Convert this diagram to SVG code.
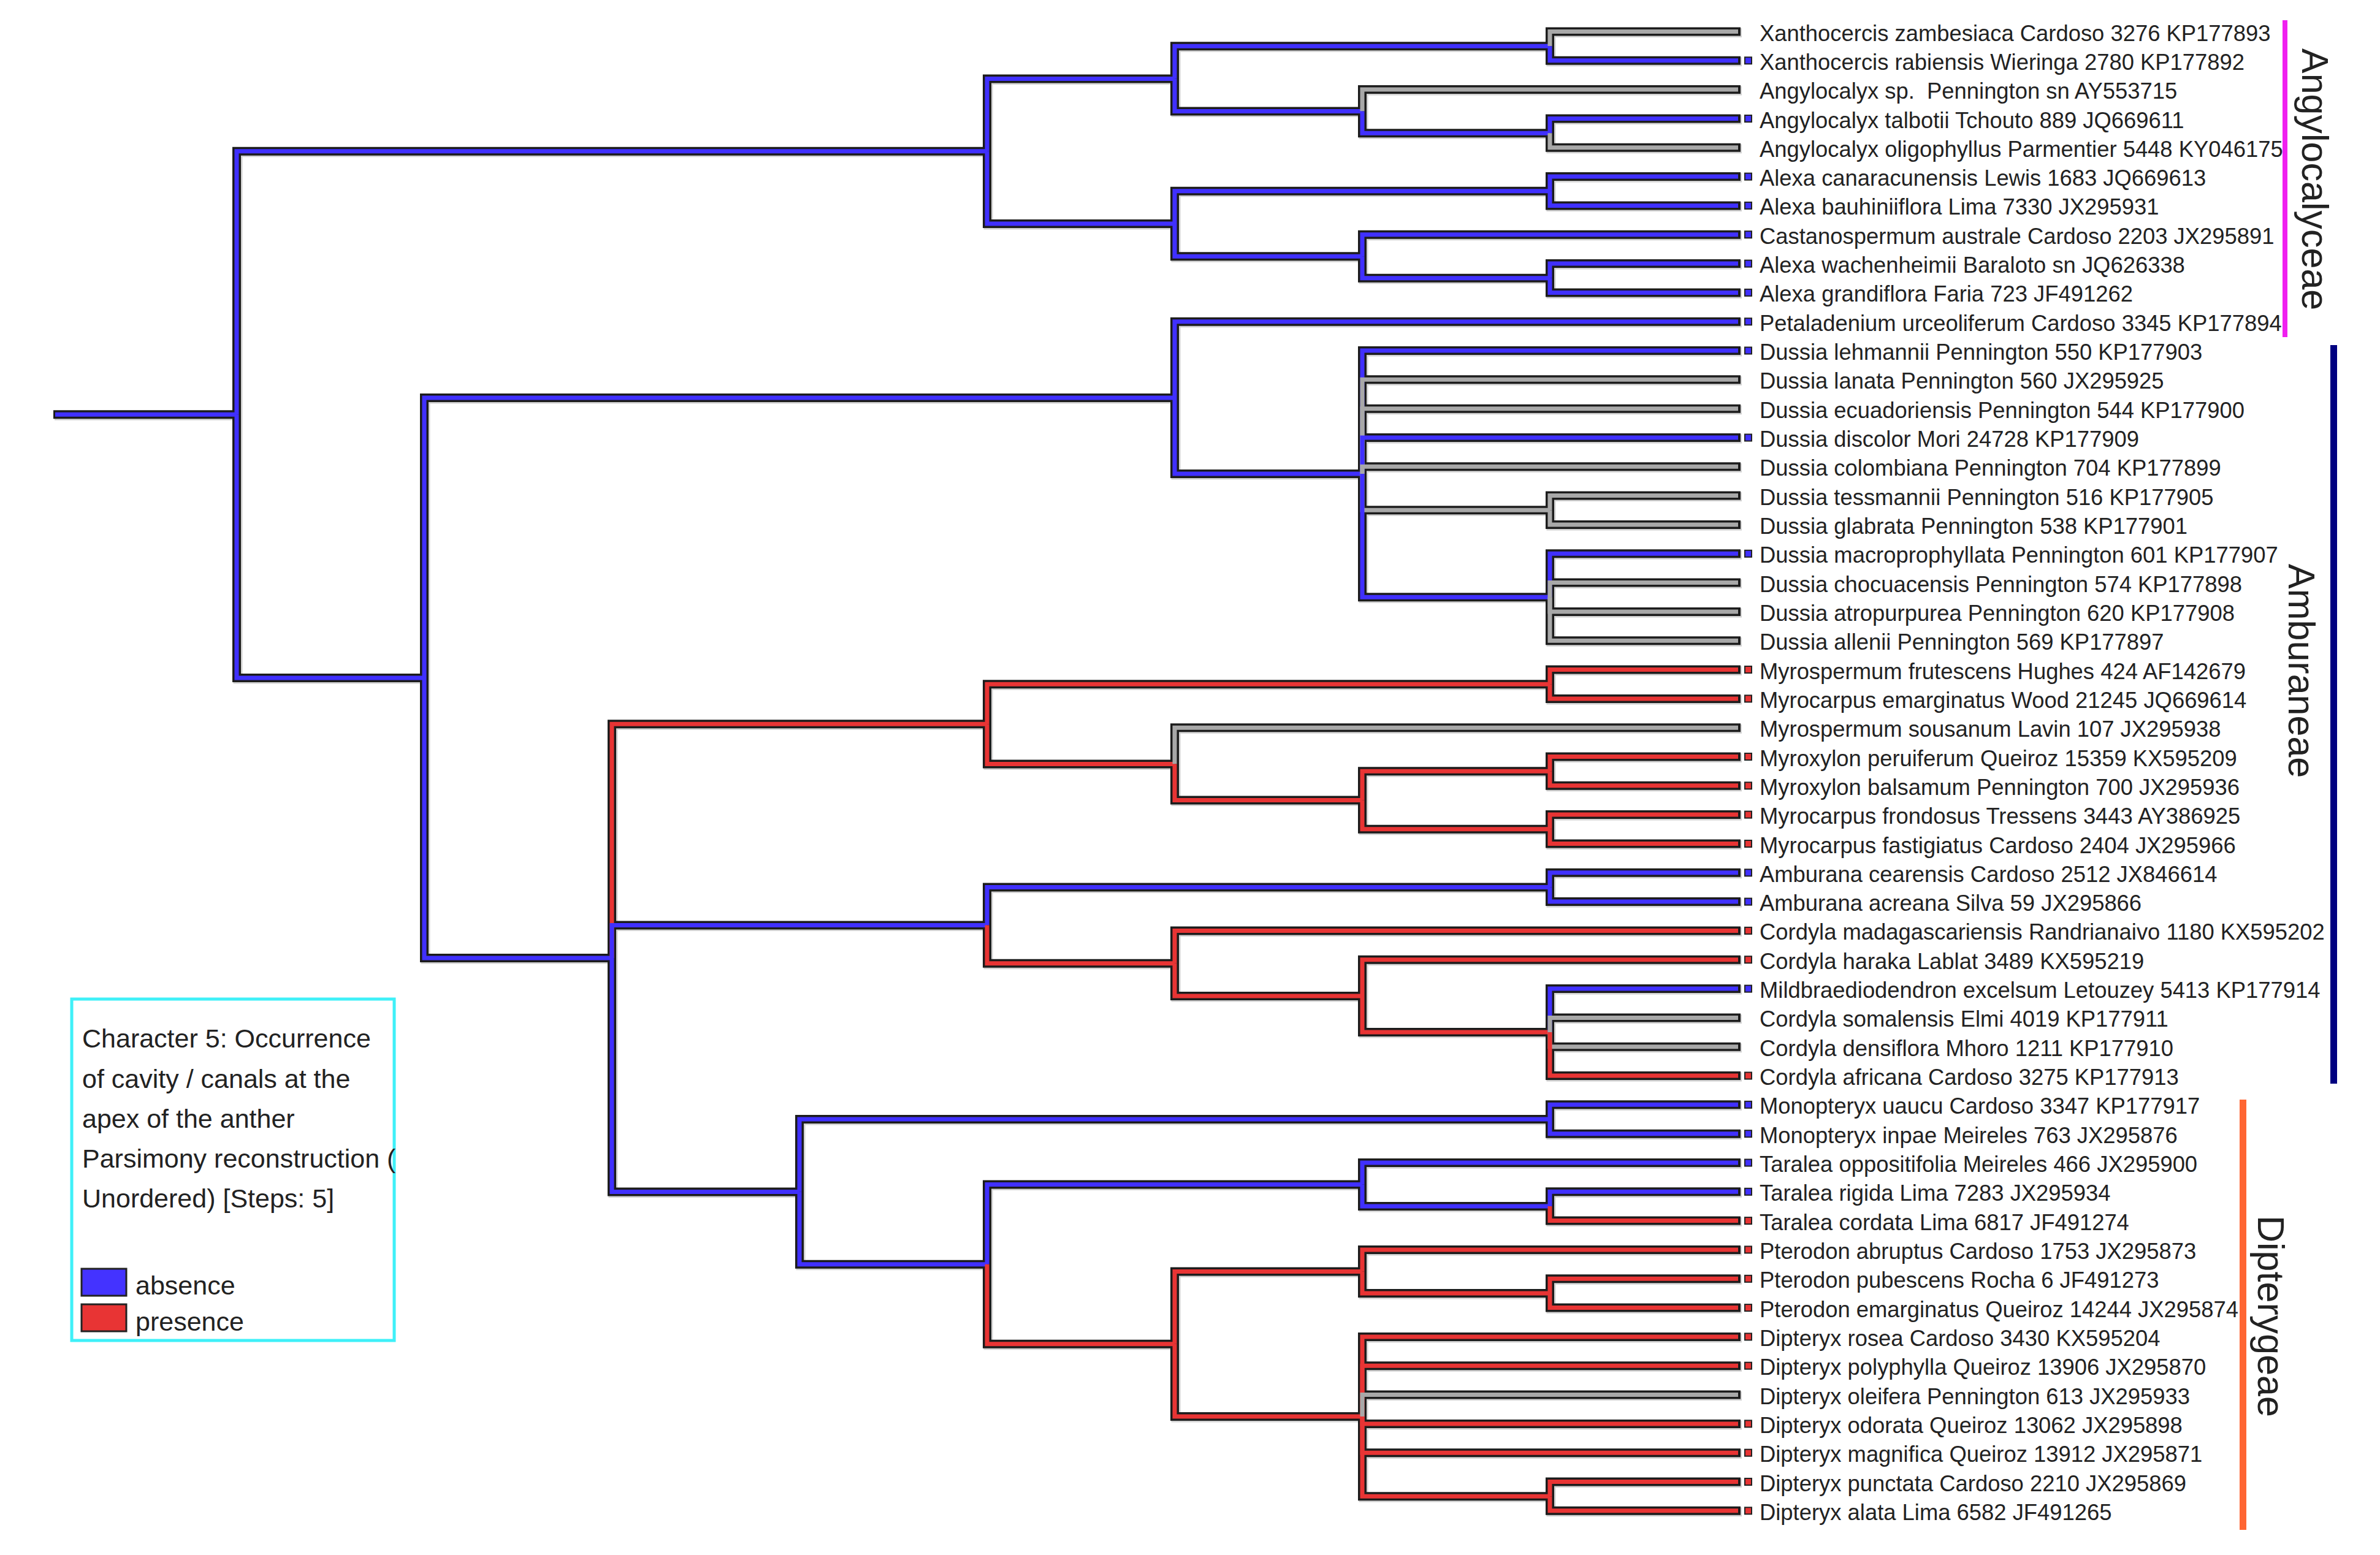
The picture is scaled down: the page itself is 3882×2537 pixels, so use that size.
<svg xmlns="http://www.w3.org/2000/svg" xmlns:xlink="http://www.w3.org/1999/xlink" width="3882" height="2537" viewBox="0 0 3882 2537">
<style>
.sh{fill:none;stroke:#d2d2d2;stroke-width:15}
.ol{fill:none;stroke:#1c1c1c;stroke-width:14}
.f{fill:none;stroke-width:7}
.fb{stroke:#4030ff}.fr{stroke:#e83434}.fg{stroke:#a8a8a8}
.sq{stroke:#222;stroke-width:2}
.sb{fill:#4030ff}.sr{fill:#e83434}
.lab{font-family:"Liberation Sans",Arial,sans-serif;font-size:36.4px;fill:#222}
.clade{font-family:"Liberation Sans",Arial,sans-serif;font-size:61px;fill:#222}
.leg{font-family:"Liberation Sans",Arial,sans-serif;font-size:43px;fill:#222}
</style>
<defs>
<path id="all" d="M87 676.3H386 M386 676.3V246.7H1610 M1610 246.7V128.4H1916 M1916 128.4V75.2H2528 M2528 75.2V51.5H2839 M2528 75.2V98.8H2839 M1916 128.4V181.6H2222 M2222 181.6V146.1H2839 M2222 181.6V217.2H2528 M2528 217.2V193.5H2839 M2528 217.2V240.8H2839 M1610 246.7V365H1916 M1916 365V311.8H2528 M2528 311.8V288.1H2839 M2528 311.8V335.4H2839 M1916 365V418.2H2222 M2222 418.2V382.7H2839 M2222 418.2V453.8H2528 M2528 453.8V430.1H2839 M2528 453.8V477.4H2839 M386 676.3V1105.9H692 M692 1105.9V648.9H1916 M1916 648.9V524.7H2839 M1916 648.9V773.1H2222 M2222 773.1V572H2839 M2222 773.1V619.3H2839 M2222 773.1V666.7H2839 M2222 773.1V714H2839 M2222 773.1V761.3H2839 M2222 773.1V832.3H2528 M2528 832.3V808.6H2839 M2528 832.3V855.9H2839 M2222 773.1V974.3H2528 M2528 974.3V903.3H2839 M2528 974.3V950.6H2839 M2528 974.3V997.9H2839 M2528 974.3V1045.2H2839 M692 1105.9V1562.9H998 M998 1562.9V1181.3H1610 M1610 1181.3V1116.2H2528 M2528 1116.2V1092.5H2839 M2528 1116.2V1139.9H2839 M1610 1181.3V1246.4H1916 M1916 1246.4V1187.2H2839 M1916 1246.4V1305.5H2222 M2222 1305.5V1258.2H2528 M2528 1258.2V1234.5H2839 M2528 1258.2V1281.8H2839 M2222 1305.5V1352.8H2528 M2528 1352.8V1329.1H2839 M2528 1352.8V1376.5H2839 M998 1562.9V1509.6H1610 M1610 1509.6V1447.5H2528 M2528 1447.5V1423.8H2839 M2528 1447.5V1471.1H2839 M1610 1509.6V1571.7H1916 M1916 1571.7V1518.4H2839 M1916 1571.7V1624.9H2222 M2222 1624.9V1565.7H2839 M2222 1624.9V1684.1H2528 M2528 1684.1V1613.1H2839 M2528 1684.1V1660.4H2839 M2528 1684.1V1707.7H2839 M2528 1684.1V1755H2839 M998 1562.9V1944.4H1304 M1304 1944.4V1826H2528 M2528 1826V1802.3H2839 M2528 1826V1849.7H2839 M1304 1944.4V2062.7H1610 M1610 2062.7V1932.5H2222 M2222 1932.5V1897H2839 M2222 1932.5V1968H2528 M2528 1968V1944.3H2839 M2528 1968V1991.6H2839 M1610 2062.7V2192.8H1916 M1916 2192.8V2074.5H2222 M2222 2074.5V2038.9H2839 M2222 2074.5V2110H2528 M2528 2110V2086.3H2839 M2528 2110V2133.6H2839 M1916 2192.8V2311.1H2222 M2222 2311.1V2180.9H2839 M2222 2311.1V2228.2H2839 M2222 2311.1V2275.5H2839 M2222 2311.1V2322.9H2839 M2222 2311.1V2370.2H2839 M2222 2311.1V2441.2H2528 M2528 2441.2V2417.5H2839 M2528 2441.2V2464.8H2839"/>
</defs>
<rect width="3882" height="2537" fill="#fff"/>
<g id="connectors">
<use xlink:href="#all" href="#all" class="sh" transform="translate(2,2)"/>
<use xlink:href="#all" href="#all" class="ol"/>
<g class="f">
<path class="fb" d="M90 676.3H386"/>
<path class="fb" d="M386 676.3V246.7H1610"/>
<path class="fb" d="M1610 246.7V128.4H1916"/>
<path class="fb" d="M1916 128.4V75.2H2528"/>
<path class="fg" d="M2528 75.2V51.5H2835"/>
<path class="fb" d="M2528 75.2V98.8H2835"/>
<path class="fb" d="M1916 128.4V181.6H2222"/>
<path class="fg" d="M2222 181.6V146.1H2835"/>
<path class="fb" d="M2222 181.6V217.2H2528"/>
<path class="fb" d="M2528 217.2V193.5H2835"/>
<path class="fg" d="M2528 217.2V240.8H2835"/>
<path class="fb" d="M1610 246.7V365H1916"/>
<path class="fb" d="M1916 365V311.8H2528"/>
<path class="fb" d="M2528 311.8V288.1H2835"/>
<path class="fb" d="M2528 311.8V335.4H2835"/>
<path class="fb" d="M1916 365V418.2H2222"/>
<path class="fb" d="M2222 418.2V382.7H2835"/>
<path class="fb" d="M2222 418.2V453.8H2528"/>
<path class="fb" d="M2528 453.8V430.1H2835"/>
<path class="fb" d="M2528 453.8V477.4H2835"/>
<path class="fb" d="M386 676.3V1105.9H692"/>
<path class="fb" d="M692 1105.9V648.9H1916"/>
<path class="fb" d="M1916 648.9V524.7H2835"/>
<path class="fb" d="M1916 648.9V773.1H2222"/>
<path class="fb" d="M2222 773.1V572H2835"/>
<path class="fg" d="M2222 773.1V619.3H2835"/>
<path class="fg" d="M2222 773.1V666.7H2835"/>
<path class="fb" d="M2222 773.1V714H2835"/>
<path class="fg" d="M2222 773.1V761.3H2835"/>
<path class="fg" d="M2222 773.1V832.3H2528"/>
<path class="fg" d="M2528 832.3V808.6H2835"/>
<path class="fg" d="M2528 832.3V855.9H2835"/>
<path class="fb" d="M2222 773.1V974.3H2528"/>
<path class="fb" d="M2528 974.3V903.3H2835"/>
<path class="fg" d="M2528 974.3V950.6H2835"/>
<path class="fg" d="M2528 974.3V997.9H2835"/>
<path class="fg" d="M2528 974.3V1045.2H2835"/>
<path class="fb" d="M692 1105.9V1562.9H998"/>
<path class="fr" d="M998 1562.9V1181.3H1610"/>
<path class="fr" d="M1610 1181.3V1116.2H2528"/>
<path class="fr" d="M2528 1116.2V1092.5H2835"/>
<path class="fr" d="M2528 1116.2V1139.9H2835"/>
<path class="fr" d="M1610 1181.3V1246.4H1916"/>
<path class="fg" d="M1916 1246.4V1187.2H2835"/>
<path class="fr" d="M1916 1246.4V1305.5H2222"/>
<path class="fr" d="M2222 1305.5V1258.2H2528"/>
<path class="fr" d="M2528 1258.2V1234.5H2835"/>
<path class="fr" d="M2528 1258.2V1281.8H2835"/>
<path class="fr" d="M2222 1305.5V1352.8H2528"/>
<path class="fr" d="M2528 1352.8V1329.1H2835"/>
<path class="fr" d="M2528 1352.8V1376.5H2835"/>
<path class="fb" d="M998 1562.9V1509.6H1610"/>
<path class="fb" d="M1610 1509.6V1447.5H2528"/>
<path class="fb" d="M2528 1447.5V1423.8H2835"/>
<path class="fb" d="M2528 1447.5V1471.1H2835"/>
<path class="fr" d="M1610 1509.6V1571.7H1916"/>
<path class="fr" d="M1916 1571.7V1518.4H2835"/>
<path class="fr" d="M1916 1571.7V1624.9H2222"/>
<path class="fr" d="M2222 1624.9V1565.7H2835"/>
<path class="fr" d="M2222 1624.9V1684.1H2528"/>
<path class="fb" d="M2528 1684.1V1613.1H2835"/>
<path class="fg" d="M2528 1684.1V1660.4H2835"/>
<path class="fg" d="M2528 1684.1V1707.7H2835"/>
<path class="fr" d="M2528 1684.1V1755H2835"/>
<path class="fb" d="M998 1562.9V1944.4H1304"/>
<path class="fb" d="M1304 1944.4V1826H2528"/>
<path class="fb" d="M2528 1826V1802.3H2835"/>
<path class="fb" d="M2528 1826V1849.7H2835"/>
<path class="fb" d="M1304 1944.4V2062.7H1610"/>
<path class="fb" d="M1610 2062.7V1932.5H2222"/>
<path class="fb" d="M2222 1932.5V1897H2835"/>
<path class="fb" d="M2222 1932.5V1968H2528"/>
<path class="fb" d="M2528 1968V1944.3H2835"/>
<path class="fr" d="M2528 1968V1991.6H2835"/>
<path class="fr" d="M1610 2062.7V2192.8H1916"/>
<path class="fr" d="M1916 2192.8V2074.5H2222"/>
<path class="fr" d="M2222 2074.5V2038.9H2835"/>
<path class="fr" d="M2222 2074.5V2110H2528"/>
<path class="fr" d="M2528 2110V2086.3H2835"/>
<path class="fr" d="M2528 2110V2133.6H2835"/>
<path class="fr" d="M1916 2192.8V2311.1H2222"/>
<path class="fr" d="M2222 2311.1V2180.9H2835"/>
<path class="fr" d="M2222 2311.1V2228.2H2835"/>
<path class="fg" d="M2222 2311.1V2275.5H2835"/>
<path class="fr" d="M2222 2311.1V2322.9H2835"/>
<path class="fr" d="M2222 2311.1V2370.2H2835"/>
<path class="fr" d="M2222 2311.1V2441.2H2528"/>
<path class="fr" d="M2528 2441.2V2417.5H2835"/>
<path class="fr" d="M2528 2441.2V2464.8H2835"/>
</g>
</g>
<g id="taxa" class="lab">
<g id="t01"><text x="2870" y="66.5">Xanthocercis zambesiaca Cardoso 3276 KP177893</text></g>
<g id="t02"><rect class="sq sb" x="2846" y="93.3" width="11" height="11"/><text x="2870" y="113.8">Xanthocercis rabiensis Wieringa 2780 KP177892</text></g>
<g id="t03"><text x="2870" y="161.1" style="white-space:pre">Angylocalyx sp.  Pennington sn AY553715</text></g>
<g id="t04"><rect class="sq sb" x="2846" y="188" width="11" height="11"/><text x="2870" y="208.5">Angylocalyx talbotii Tchouto 889 JQ669611</text></g>
<g id="t05"><text x="2870" y="255.8">Angylocalyx oligophyllus Parmentier 5448 KY046175</text></g>
<g id="t06"><rect class="sq sb" x="2846" y="282.6" width="11" height="11"/><text x="2870" y="303.1">Alexa canaracunensis Lewis 1683 JQ669613</text></g>
<g id="t07"><rect class="sq sb" x="2846" y="329.9" width="11" height="11"/><text x="2870" y="350.4">Alexa bauhiniiflora Lima 7330 JX295931</text></g>
<g id="t08"><rect class="sq sb" x="2846" y="377.2" width="11" height="11"/><text x="2870" y="397.7">Castanospermum australe Cardoso 2203 JX295891</text></g>
<g id="t09"><rect class="sq sb" x="2846" y="424.6" width="11" height="11"/><text x="2870" y="445.1">Alexa wachenheimii Baraloto sn JQ626338</text></g>
<g id="t10"><rect class="sq sb" x="2846" y="471.9" width="11" height="11"/><text x="2870" y="492.4">Alexa grandiflora Faria 723 JF491262</text></g>
<g id="t11"><rect class="sq sb" x="2846" y="519.2" width="11" height="11"/><text x="2870" y="539.7">Petaladenium urceoliferum Cardoso 3345 KP177894</text></g>
<g id="t12"><rect class="sq sb" x="2846" y="566.5" width="11" height="11"/><text x="2870" y="587">Dussia lehmannii Pennington 550 KP177903</text></g>
<g id="t13"><text x="2870" y="634.3">Dussia lanata Pennington 560 JX295925</text></g>
<g id="t14"><text x="2870" y="681.7">Dussia ecuadoriensis Pennington 544 KP177900</text></g>
<g id="t15"><rect class="sq sb" x="2846" y="708.5" width="11" height="11"/><text x="2870" y="729">Dussia discolor Mori 24728 KP177909</text></g>
<g id="t16"><text x="2870" y="776.3">Dussia colombiana Pennington 704 KP177899</text></g>
<g id="t17"><text x="2870" y="823.6">Dussia tessmannii Pennington 516 KP177905</text></g>
<g id="t18"><text x="2870" y="870.9">Dussia glabrata Pennington 538 KP177901</text></g>
<g id="t19"><rect class="sq sb" x="2846" y="897.8" width="11" height="11"/><text x="2870" y="918.3">Dussia macroprophyllata Pennington 601 KP177907</text></g>
<g id="t20"><text x="2870" y="965.6">Dussia chocuacensis Pennington 574 KP177898</text></g>
<g id="t21"><text x="2870" y="1012.9">Dussia atropurpurea Pennington 620 KP177908</text></g>
<g id="t22"><text x="2870" y="1060.2">Dussia allenii Pennington 569 KP177897</text></g>
<g id="t23"><rect class="sq sr" x="2846" y="1087" width="11" height="11"/><text x="2870" y="1107.5">Myrospermum frutescens Hughes 424 AF142679</text></g>
<g id="t24"><rect class="sq sr" x="2846" y="1134.4" width="11" height="11"/><text x="2870" y="1154.9">Myrocarpus emarginatus Wood 21245 JQ669614</text></g>
<g id="t25"><text x="2870" y="1202.2">Myrospermum sousanum Lavin 107 JX295938</text></g>
<g id="t26"><rect class="sq sr" x="2846" y="1229" width="11" height="11"/><text x="2870" y="1249.5">Myroxylon peruiferum Queiroz 15359 KX595209</text></g>
<g id="t27"><rect class="sq sr" x="2846" y="1276.3" width="11" height="11"/><text x="2870" y="1296.8">Myroxylon balsamum Pennington 700 JX295936</text></g>
<g id="t28"><rect class="sq sr" x="2846" y="1323.6" width="11" height="11"/><text x="2870" y="1344.1">Myrocarpus frondosus Tressens 3443 AY386925</text></g>
<g id="t29"><rect class="sq sr" x="2846" y="1371" width="11" height="11"/><text x="2870" y="1391.5">Myrocarpus fastigiatus Cardoso 2404 JX295966</text></g>
<g id="t30"><rect class="sq sb" x="2846" y="1418.3" width="11" height="11"/><text x="2870" y="1438.8">Amburana cearensis Cardoso 2512 JX846614</text></g>
<g id="t31"><rect class="sq sb" x="2846" y="1465.6" width="11" height="11"/><text x="2870" y="1486.1">Amburana acreana Silva 59 JX295866</text></g>
<g id="t32"><rect class="sq sr" x="2846" y="1512.9" width="11" height="11"/><text x="2870" y="1533.4">Cordyla madagascariensis Randrianaivo 1180 KX595202</text></g>
<g id="t33"><rect class="sq sr" x="2846" y="1560.2" width="11" height="11"/><text x="2870" y="1580.7">Cordyla haraka Lablat 3489 KX595219</text></g>
<g id="t34"><rect class="sq sb" x="2846" y="1607.6" width="11" height="11"/><text x="2870" y="1628.1">Mildbraediodendron excelsum Letouzey 5413 KP177914</text></g>
<g id="t35"><text x="2870" y="1675.4">Cordyla somalensis Elmi 4019 KP177911</text></g>
<g id="t36"><text x="2870" y="1722.7">Cordyla densiflora Mhoro 1211 KP177910</text></g>
<g id="t37"><rect class="sq sr" x="2846" y="1749.5" width="11" height="11"/><text x="2870" y="1770">Cordyla africana Cardoso 3275 KP177913</text></g>
<g id="t38"><rect class="sq sb" x="2846" y="1796.8" width="11" height="11"/><text x="2870" y="1817.3">Monopteryx uaucu Cardoso 3347 KP177917</text></g>
<g id="t39"><rect class="sq sb" x="2846" y="1844.2" width="11" height="11"/><text x="2870" y="1864.7">Monopteryx inpae Meireles 763 JX295876</text></g>
<g id="t40"><rect class="sq sb" x="2846" y="1891.5" width="11" height="11"/><text x="2870" y="1912">Taralea oppositifolia Meireles 466 JX295900</text></g>
<g id="t41"><rect class="sq sb" x="2846" y="1938.8" width="11" height="11"/><text x="2870" y="1959.3">Taralea rigida Lima 7283 JX295934</text></g>
<g id="t42"><rect class="sq sr" x="2846" y="1986.1" width="11" height="11"/><text x="2870" y="2006.6">Taralea cordata Lima 6817 JF491274</text></g>
<g id="t43"><rect class="sq sr" x="2846" y="2033.4" width="11" height="11"/><text x="2870" y="2053.9">Pterodon abruptus Cardoso 1753 JX295873</text></g>
<g id="t44"><rect class="sq sr" x="2846" y="2080.8" width="11" height="11"/><text x="2870" y="2101.3">Pterodon pubescens Rocha 6 JF491273</text></g>
<g id="t45"><rect class="sq sr" x="2846" y="2128.1" width="11" height="11"/><text x="2870" y="2148.6">Pterodon emarginatus Queiroz 14244 JX295874</text></g>
<g id="t46"><rect class="sq sr" x="2846" y="2175.4" width="11" height="11"/><text x="2870" y="2195.9">Dipteryx rosea Cardoso 3430 KX595204</text></g>
<g id="t47"><rect class="sq sr" x="2846" y="2222.7" width="11" height="11"/><text x="2870" y="2243.2">Dipteryx polyphylla Queiroz 13906 JX295870</text></g>
<g id="t48"><text x="2870" y="2290.5">Dipteryx oleifera Pennington 613 JX295933</text></g>
<g id="t49"><rect class="sq sr" x="2846" y="2317.4" width="11" height="11"/><text x="2870" y="2337.9">Dipteryx odorata Queiroz 13062 JX295898</text></g>
<g id="t50"><rect class="sq sr" x="2846" y="2364.7" width="11" height="11"/><text x="2870" y="2385.2">Dipteryx magnifica Queiroz 13912 JX295871</text></g>
<g id="t51"><rect class="sq sr" x="2846" y="2412" width="11" height="11"/><text x="2870" y="2432.5">Dipteryx punctata Cardoso 2210 JX295869</text></g>
<g id="t52"><rect class="sq sr" x="2846" y="2459.3" width="11" height="11"/><text x="2870" y="2479.8">Dipteryx alata Lima 6582 JF491265</text></g>
</g>
<g id="clade-angylocalyceae">
<rect x="3723" y="33" width="8" height="517" fill="#f020f0"/>
<text class="clade" transform="translate(3755,79) rotate(90)">Angylocalyceae</text>
</g>
<g id="clade-amburaneae">
<rect x="3801" y="563" width="11" height="1205" fill="#000080"/>
<text class="clade" transform="translate(3733,920) rotate(90)">Amburaneae</text>
</g>
<g id="clade-dipterygeae">
<rect x="3653" y="1794" width="11" height="702" fill="#ff6633"/>
<text class="clade" transform="translate(3683,1983) rotate(90)">Dipterygeae</text>
</g>
<g id="legend" class="leg">
<rect x="117" y="1630" width="526" height="557" fill="none" stroke="#3ff0f8" stroke-width="5"/>
<text x="134" y="1709">Character 5: Occurrence</text>
<text x="134" y="1775">of cavity / canals at the</text>
<text x="134" y="1840">apex of the anther</text>
<text x="134" y="1905">Parsimony reconstruction (</text>
<text x="134" y="1970">Unordered) [Steps: 5]</text>
<rect x="133" y="2070" width="73" height="44" fill="#4433ff" stroke="#222" stroke-width="3"/>
<text x="221" y="2112">absence</text>
<rect x="133" y="2128" width="73" height="44" fill="#e83434" stroke="#222" stroke-width="3"/>
<text x="221" y="2171">presence</text>
</g>
</svg>
